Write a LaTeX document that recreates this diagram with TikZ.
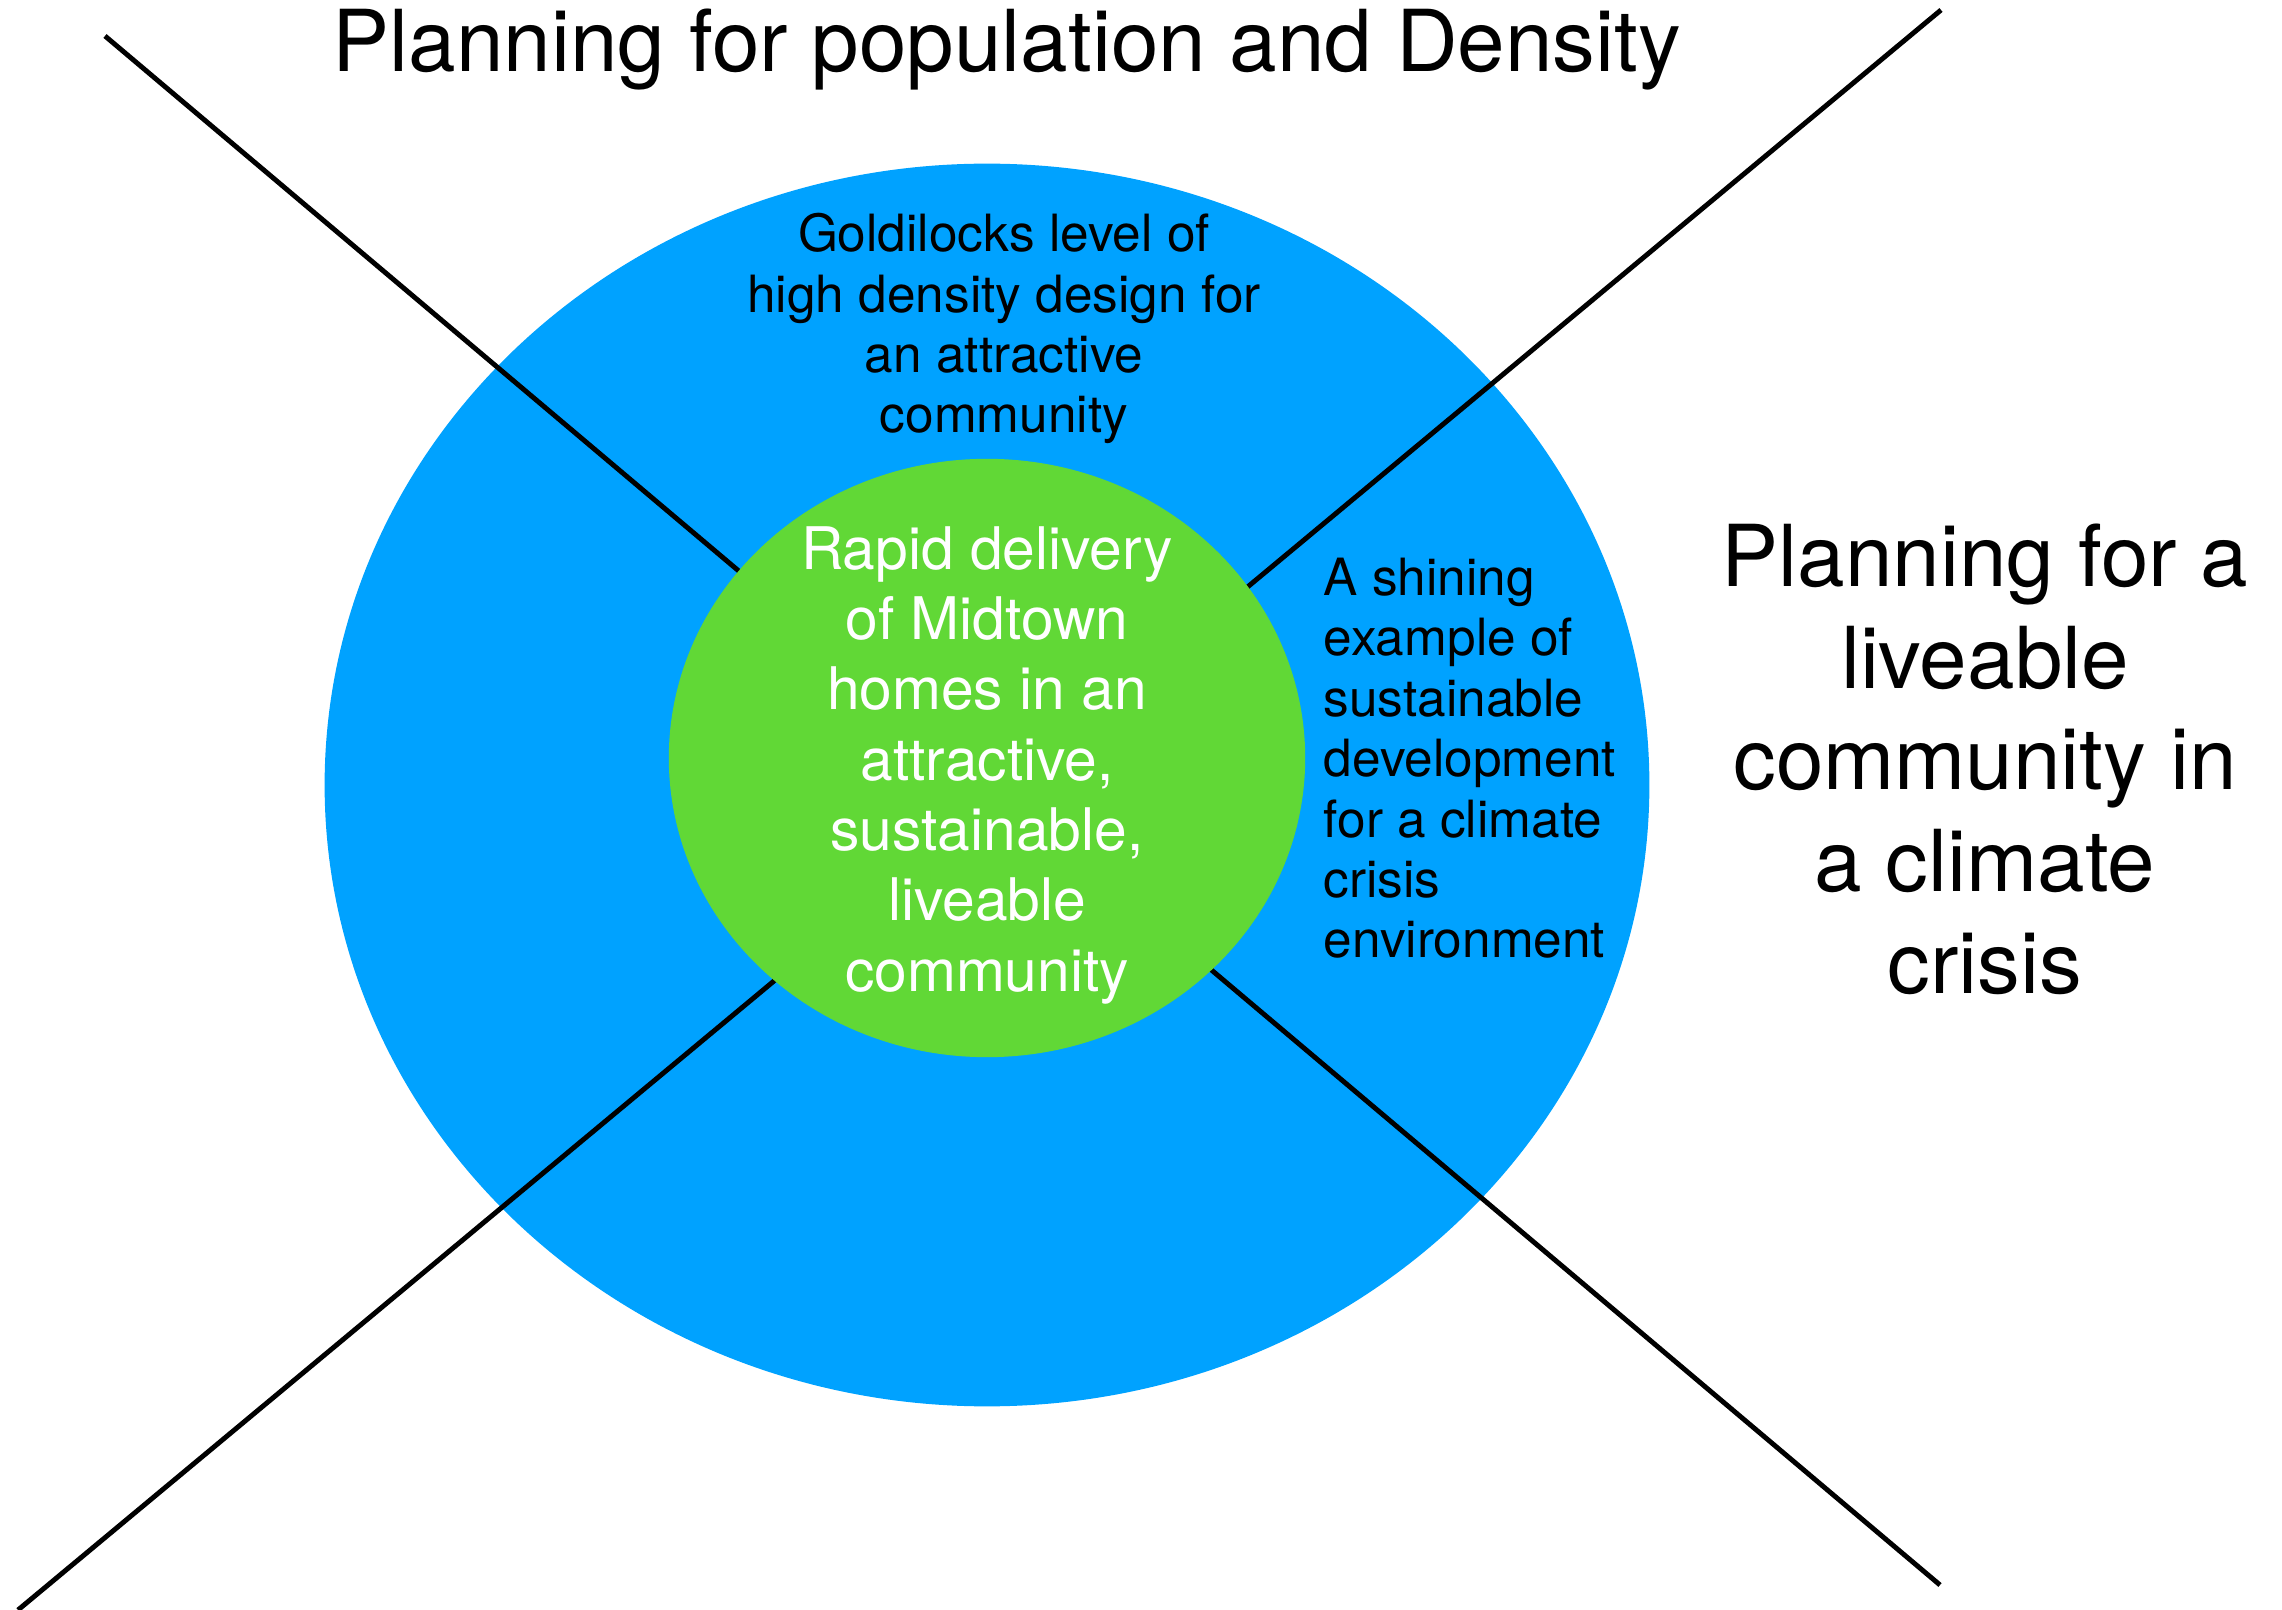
\documentclass[tikz,border=0pt]{standalone}
\usepackage{fontspec}
\setmainfont{TeX Gyre Heros}
\usepackage{tikz}
\usetikzlibrary{shapes.geometric, positioning, calc}
\definecolor{ringblue}{RGB}{0,162,255}
\definecolor{coregreen}{RGB}{97,216,54}
\tikzstyle{heading}  = [align=center, inner sep=0pt, font=\fontsize{24.3}{28.9}\selectfont]
\tikzstyle{ringtext} = [inner sep=0pt, font=\fontsize{14.6}{17.2}\selectfont]
\tikzstyle{divider}  = [line width=1.4pt, draw=black]

\begin{document}
\begin{tikzpicture}[x=0.01cm, y=-0.01cm]
  \useasboundingbox (0,0) rectangle (2282,1610);

  % outer ring
  \node (ring) [ellipse, fill=ringblue, minimum width=13.24cm, minimum height=12.42cm, inner sep=0pt] at (987,785) {};

  % the two crossing lines
  \coordinate (tl) at (105,36);
  \coordinate (br) at (1940,1585);
  \coordinate (tr) at (1941,10);
  \coordinate (bl) at (18,1610);
  \draw[divider] (tl) -- (br);
  \draw[divider] (tr) -- (bl);

  % core sits on top of the lines
  \node (core) [ellipse, fill=coregreen, minimum width=6.36cm, minimum height=5.98cm, inner sep=0pt] at (987,758) {};
  \node (corelabel) [text=white, align=center, inner sep=0pt, font=\fontsize{16.7}{20}\selectfont] at (987,765)
    {Rapid delivery\\of Midtown\\homes in an\\attractive,\\sustainable,\\liveable\\community};

  % base anchor of a multi-line node is the last line
  \node (title)    [heading, anchor=base] at (1007,72) {Planning for population and Density};
  \node (liveable) [heading, anchor=base] at (1985,993)
    {Planning for a\\liveable\\community in\\a climate\\crisis};

  \node (density) [ringtext, align=center, anchor=base] at (1004,433)
    {Goldilocks level of\\high density design for\\an attractive\\community};
  \node (climate) [ringtext, align=left, anchor=base west] at (1323,958)
    {A shining\\example of\\sustainable\\development\\for a climate\\crisis\\environment};
\end{tikzpicture}
\end{document}
